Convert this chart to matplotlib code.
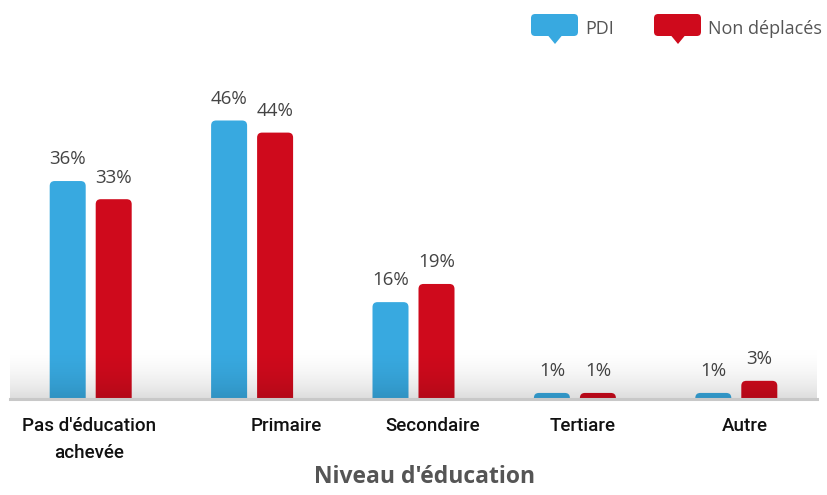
import matplotlib.pyplot as plt
import numpy as np
from matplotlib.patches import FancyBboxPatch, Polygon

categories = ["Pas d'éducation\nachevée", 'Primaire', 'Secondaire', 'Tertiare', 'Autre']
pdi = [36, 46, 16, 1, 1]
non_deplaces = [33, 44, 19, 1, 3]
series_names = ['PDI', 'Non déplacés']
label_shift = [-0.01, 0.21, 0.12, 0.05, 0.05]

blue = '#38a9e0'
red = '#cf0a1c'

W, H = 8.27, 4.95
fig = plt.figure(figsize=(W, H), dpi=100)
ax = fig.add_axes([10 / 827, 96 / 495, 807 / 827, 333 / 495])
ax.set_xlim(-0.5, 4.5)
ax.set_ylim(0, 55)
ax.axis('off')

# pixels per data unit, used for the rounded bar tops
px_x = 807 / 5
px_y = 333 / 55
r_px = 5
bw = 36 / px_x
off = 23 / px_x

x = np.arange(len(categories))
for vals, col, sgn in [(pdi, blue, -1), (non_deplaces, red, 1)]:
    for xi, v in zip(x, vals):
        left = xi + sgn * off - bw / 2
        rx = r_px / px_x
        p = FancyBboxPatch((left, -2), bw, v + 2,
                           boxstyle='round,pad=0,rounding_size=%f' % rx,
                           mutation_aspect=(r_px / px_y) / rx,
                           fc=col, ec='none', zorder=2)
        ax.add_patch(p)
        ax.annotate('%d%%' % v, (xi + sgn * off, v), xytext=(0, 12),
                    textcoords='offset points', ha='center', va='baseline',
                    fontsize=13.5, color='#444444', family='Open Sans')

# grey shading near the baseline
grad = np.linspace(0, 1, 200)[:, None] ** 2.2
shade = np.zeros((200, 1, 4))
shade[..., 3] = grad * 0.14
ax.imshow(shade, extent=(-0.5, 4.5, 0, 10), aspect='auto',
          origin='upper', zorder=3)
ax.plot([-0.5, 4.5], [0, 0], color='#c8c8c8', lw=2.2, zorder=4, clip_on=False)

for xi, lab, s in zip(x, categories, label_shift):
    ax.text(xi + s, -3.0, lab, ha='center', va='top', fontsize=13.5,
            family='Roboto', fontweight='medium', color='#111111', linespacing=1.65)

fig.text(425 / 827, 1 - 483 / 495, "Niveau d'éducation", ha='center', va='baseline',
         fontsize=16.5, fontweight='bold', family='Open Sans', color='#555555')

# speech-bubble legend
def bubble(x0, col, label):
    x0f, wf = x0 / 827, 47 / 827
    y0f, hf = 1 - 36 / 495, 22 / 495
    b = FancyBboxPatch((x0f, y0f), wf, hf, boxstyle='round,pad=0,rounding_size=0.005',
                       mutation_aspect=W / H, fc=col, ec='none', transform=fig.transFigure)
    fig.patches.append(b)
    cx = x0f + 24 / 827
    tri = Polygon([[cx - 7 / 827, y0f + 0.001], [cx + 7 / 827, y0f + 0.001], [cx, 1 - 44 / 495]],
                  closed=True, fc=col, ec='none', transform=fig.transFigure)
    fig.patches.append(tri)
    fig.text((x0 + 54) / 827, 1 - 29 / 495, label, ha='left', va='center',
             fontsize=13, color='#555555', family='Open Sans')

bubble(531, blue, series_names[0])
bubble(654, red, series_names[1])

plt.savefig('out.png', dpi=100)
